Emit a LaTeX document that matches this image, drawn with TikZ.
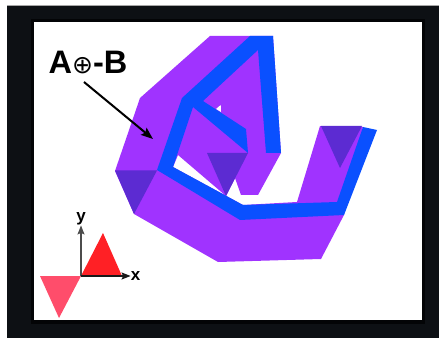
\documentclass[tikz,border=0pt]{standalone}
\usepackage{fontspec}
\setmainfont{Liberation Sans}
\newfontfamily\symfont{DejaVu Sans}
\usetikzlibrary{arrows.meta}
\definecolor{framec}{HTML}{0D1014}
\definecolor{framedk}{HTML}{030406}
\definecolor{purp}{HTML}{A033FF}
\definecolor{dpurp}{HTML}{5C2BD2}
\definecolor{blu}{HTML}{0A50FF}
\definecolor{redt}{HTML}{FF2025}
\definecolor{pinkt}{HTML}{FF4D6B}
\tikzset{
  px/.style={x=1pt,y=-1pt},
  axisline/.style={line width=1.2pt,-{Stealth[length=9pt,width=7pt,inset=1.5pt]}},
  lbl/.style={font=\bfseries\fontsize{17}{17}\selectfont,inner sep=0pt},
  dark/.style={fill=dpurp},
}
\begin{document}
\begin{tikzpicture}[px]
\useasboundingbox (0,0) rectangle (439,339);
\fill[white] (0,0) rectangle (439,339);
\fill[framec] (7,5) rectangle (439,338);
\fill[framedk] (31,19) rectangle (425,324);
\fill[white] (34,22) rectangle (422,320);
\draw[gray!70,line width=.6pt] (7,5) -- (439,5);
% purple body
\fill[purp] (210,36) -- (273,36) -- (281,153) -- (258,195) -- (241,195) -- (235,178)
  -- (226,196) -- (178,155) -- (173,167) -- (243,205) -- (297,202) -- (320,126)
  -- (363,127) -- (344,215) -- (321,259) -- (218,262) -- (134,214) -- (115,171) -- (140,98) -- cycle;
\fill[white] (220.7,105) -- (216,109) -- (221,112) -- cycle;
% dark triangles
\fill[dark] (115,170.5) -- (157,170.5) -- (134,214) -- cycle;
\fill[dark] (207,153) -- (248,153) -- (226,196) -- cycle;
\fill[dark] (321,126) -- (362,126) -- (340,168) -- cycle;
% blue band
\fill[blu] (273,36) -- (281,153) -- (266,153) -- (258,50) -- (203,101) -- (246,129)
  -- (248,153) -- (193,107) -- (173,167) -- (243,205) -- (337,202) -- (363,127)
  -- (377,130) -- (344,215) -- (240,220) -- (157,170) -- (182,98) -- (250,36) -- cycle;
% red triangles
\fill[redt] (81,276) -- (122,276) -- (103,233) -- cycle;
\fill[pinkt] (40,276) -- (81,276) -- (59,318) -- cycle;
% axes
\coordinate (o) at (81,276);
\node[lbl] (ylab) at (81,219) {y};
\node[lbl] (xlab) at (135.5,276) {x};
\draw[axisline,gray!60!black] (o) -- (ylab.south);
\draw[axisline,black!90] (o) -- (xlab.west);
% label and arrow
\node[inner sep=0pt,anchor=center] (title) at (88,62) {\bfseries\fontsize{32.5}{32.5}\selectfont A{\symfont\mdseries\fontsize{25}{25}\selectfont ⊕}-B};
\coordinate (tip) at (153,139);
\draw[line width=2pt,-{Stealth[length=12pt,width=9pt,inset=2pt]}] (84,82) -- (tip);
\end{tikzpicture}
\end{document}
